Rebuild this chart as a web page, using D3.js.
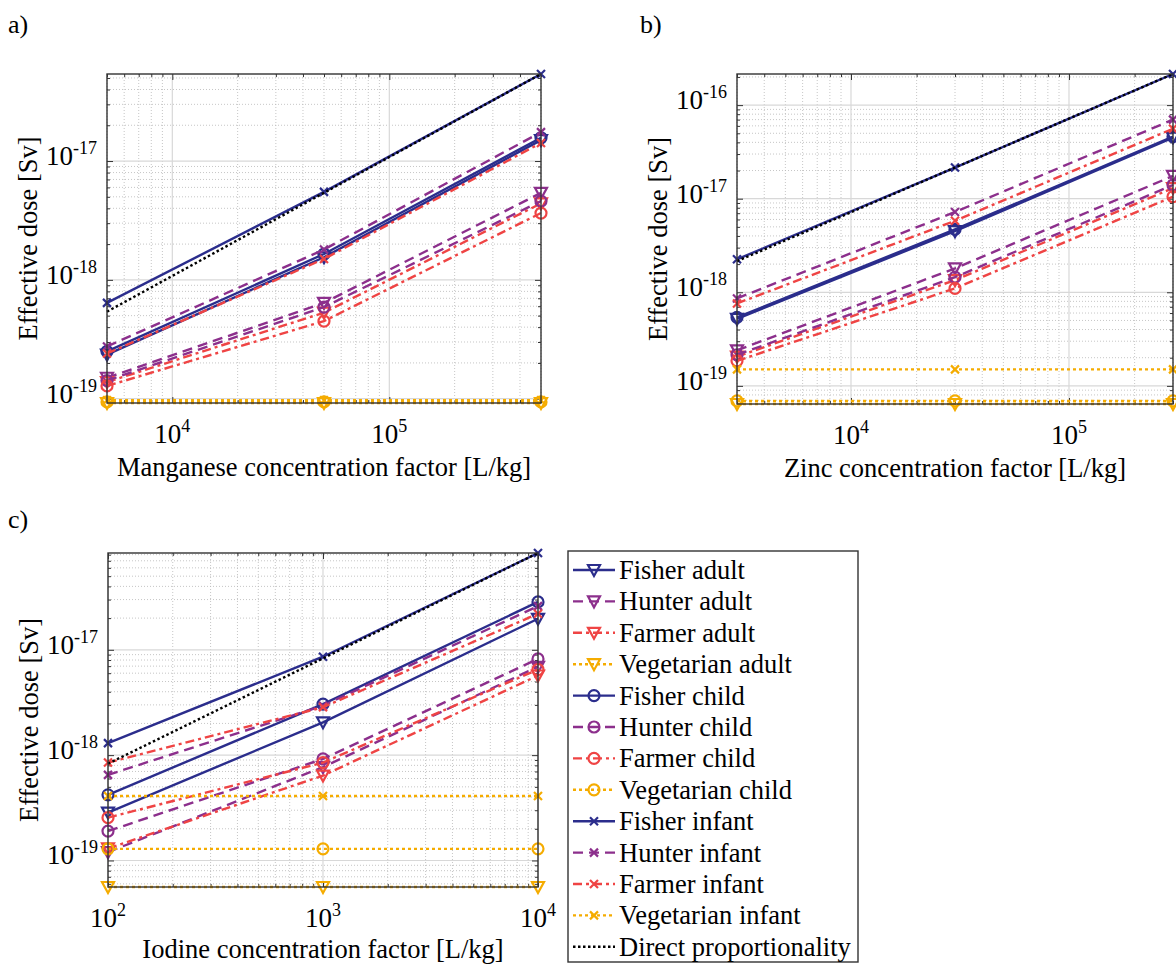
<!DOCTYPE html>
<html>
<head>
<meta charset="utf-8">
<script src="https://cdn.jsdelivr.net/npm/d3@7"></script>
<style>
body { margin: 0; background: #fff; }
text { font-family: "Liberation Serif", "Times New Roman", serif; fill: #000; }
</style>
</head>
<body>
<svg id="chart" width="1176" height="964"></svg>
<script>
"use strict";

// series, in legend order
var seriesNames = ["Fisher adult", "Hunter adult", "Farmer adult", "Vegetarian adult",
	"Fisher child", "Hunter child", "Farmer child", "Vegetarian child",
	"Fisher infant", "Hunter infant", "Farmer infant", "Vegetarian infant",
	"Direct proportionality"];

// concentration factors [L/kg]
var cfManganese = [5e3, 5e4, 5e5];
var cfZinc = [3e3, 3e4, 3e5];
var cfIodine = [1e2, 1e3, 1e4];

// effective dose [Sv], one row per series
var doseManganese = [
	[2.35e-19, 1.55e-18, 1.50e-17],
	[1.50e-19, 6.40e-19, 5.40e-18],
	[1.38e-19, 5.30e-19, 4.40e-18],
	[9.2e-20, 9.2e-20, 9.2e-20],
	[2.50e-19, 1.65e-18, 1.57e-17],
	[1.42e-19, 5.90e-19, 4.60e-18],
	[1.28e-19, 4.50e-19, 3.65e-18],
	[9.4e-20, 9.4e-20, 9.4e-20],
	[6.40e-19, 5.50e-18, 5.40e-17],
	[2.75e-19, 1.80e-18, 1.75e-17],
	[2.40e-19, 1.50e-18, 1.42e-17],
	[9.7e-20, 9.7e-20, 9.7e-20],
	[5.40e-19, 5.40e-18, 5.40e-17]
];

var doseZinc = [
	[5.20e-19, 4.50e-18, 4.50e-17],
	[2.40e-19, 1.80e-18, 1.75e-17],
	[2.05e-19, 1.35e-18, 1.30e-17],
	[6.4e-20, 6.4e-20, 6.4e-20],
	[5.40e-19, 4.70e-18, 4.60e-17],
	[2.15e-19, 1.45e-18, 1.40e-17],
	[1.85e-19, 1.10e-18, 1.05e-17],
	[6.9e-20, 6.9e-20, 6.9e-20],
	[2.25e-18, 2.15e-17, 2.15e-16],
	[8.60e-19, 7.20e-18, 7.00e-17],
	[7.60e-19, 5.80e-18, 5.60e-17],
	[1.5e-19, 1.5e-19, 1.5e-19],
	[2.15e-18, 2.15e-17, 2.15e-16]
];

var doseIodine = [
	[2.85e-19, 2.05e-18, 1.97e-17],
	[1.20e-19, 7.70e-19, 6.90e-18],
	[1.30e-19, 6.40e-19, 5.70e-18],
	[5.6e-20, 5.6e-20, 5.6e-20],
	[4.20e-19, 3.05e-18, 2.85e-17],
	[1.90e-19, 9.20e-19, 8.20e-18],
	[2.55e-19, 8.50e-19, 6.50e-18],
	[1.29e-19, 1.29e-19, 1.29e-19],
	[1.30e-18, 8.60e-18, 8.30e-17],
	[6.50e-19, 2.95e-18, 2.60e-17],
	[8.50e-19, 2.85e-18, 2.20e-17],
	[4.1e-19, 4.1e-19, 4.1e-19],
	[8.30e-19, 8.30e-18, 8.30e-17]
];

// styles per group
var groupStyle = {
	"Fisher": { color: "#2b2d8c", dash: null },
	"Hunter": { color: "#8c2f8c", dash: "10,6" },
	"Farmer": { color: "#ef4444", dash: "9,4,3,4" },
	"Vegetarian": { color: "#f5ac00", dash: "3,3" },
	"Direct": { color: "#000", dash: "2.5,2.5" }
};

var svg = d3.select("#chart");

function styleOf(name) {
	var parts = name.split(" ");
	var s = groupStyle[parts[0]];
	return { color: s.color, dash: s.dash, marker: parts[0] == "Direct" ? null : parts[1] };
}

function drawMarker(g, kind, color, cx, cy) {
	if (kind == "adult") {
		g.append("path")
			.attr("d", "M" + (cx - 6) + "," + (cy - 5) + "L" + (cx + 6) + "," + (cy - 5) + "L" + cx + "," + (cy + 6) + "Z")
			.attr("fill", "none").attr("stroke", color).attr("stroke-width", 2.2);
	} else if (kind == "child") {
		g.append("circle").attr("cx", cx).attr("cy", cy).attr("r", 5.5)
			.attr("fill", "none").attr("stroke", color).attr("stroke-width", 2.2);
	} else if (kind == "infant") {
		g.append("path")
			.attr("d", "M" + (cx - 4) + "," + (cy - 4) + "L" + (cx + 4) + "," + (cy + 4) +
				"M" + (cx - 4) + "," + (cy + 4) + "L" + (cx + 4) + "," + (cy - 4))
			.attr("stroke", color).attr("stroke-width", 2.2);
	}
}

function isDecade(v) {
	var l = Math.log10(v);
	return Math.abs(l - Math.round(l)) < 1e-6;
}

function powLabel(sel, v) {
	sel.append("tspan").text("10");
	sel.append("tspan").attr("dy", -11).style("font-size", "18px").text(Math.round(Math.log10(v)));
}

function drawPanel(p) {
	var g = svg.append("g");
	var x = d3.scaleLog().domain(d3.extent(p.xs)).range([p.left, p.right]);
	var y = d3.scaleLog().domain(d3.extent(d3.merge(p.dose))).range([p.bottom, p.top]);
	var xt = x.ticks(), yt = y.ticks();
	var xMajor = xt.filter(isDecade), yMajor = yt.filter(isDecade);
	var xMinor = xt.filter(function(v) { return !isDecade(v); });
	var yMinor = yt.filter(function(v) { return !isDecade(v); });

	// minor grid
	g.selectAll(".gxm").data(xMinor).enter().append("line")
		.attr("x1", x).attr("x2", x).attr("y1", p.top).attr("y2", p.bottom)
		.attr("stroke", "#b8b8b8").attr("stroke-width", 0.8).attr("stroke-dasharray", "1,2");
	g.selectAll(".gym").data(yMinor).enter().append("line")
		.attr("y1", y).attr("y2", y).attr("x1", p.left).attr("x2", p.right)
		.attr("stroke", "#b8b8b8").attr("stroke-width", 0.8).attr("stroke-dasharray", "1,2");
	// major grid
	g.selectAll(".gx").data(xMajor).enter().append("line")
		.attr("x1", x).attr("x2", x).attr("y1", p.top).attr("y2", p.bottom)
		.attr("stroke", "#d8d8d8").attr("stroke-width", 1.2);
	g.selectAll(".gy").data(yMajor).enter().append("line")
		.attr("y1", y).attr("y2", y).attr("x1", p.left).attr("x2", p.right)
		.attr("stroke", "#d8d8d8").attr("stroke-width", 1.2);

	// tick marks, inward on all sides
	function ticks(axis, vals, size, transform) {
		g.append("g").attr("transform", transform)
			.call(axis.tickValues(vals).tickSize(size).tickFormat(""))
			.call(function(a) {
				a.select(".domain").remove();
				a.selectAll("line").attr("stroke", "#333").attr("stroke-width", 1);
			});
	}
	ticks(d3.axisBottom(x), xMajor, -6, "translate(0," + p.bottom + ")");
	ticks(d3.axisBottom(x), xMinor, -3, "translate(0," + p.bottom + ")");
	ticks(d3.axisTop(x), xMajor, -6, "translate(0," + p.top + ")");
	ticks(d3.axisTop(x), xMinor, -3, "translate(0," + p.top + ")");
	ticks(d3.axisLeft(y), yMajor, -6, "translate(" + p.left + ",0)");
	ticks(d3.axisLeft(y), yMinor, -3, "translate(" + p.left + ",0)");
	ticks(d3.axisRight(y), yMajor, -6, "translate(" + p.right + ",0)");
	ticks(d3.axisRight(y), yMinor, -3, "translate(" + p.right + ",0)");

	// series
	var line = d3.line().x(function(d) { return x(d[0]); }).y(function(d) { return y(d[1]); });
	p.dose.forEach(function(row, i) {
		var st = styleOf(seriesNames[i]);
		var pts = row.map(function(v, j) { return [p.xs[j], v]; });
		g.append("path").attr("d", line(pts))
			.attr("fill", "none").attr("stroke", st.color).attr("stroke-width", 2.4)
			.attr("stroke-dasharray", st.dash);
		pts.forEach(function(d) {
			drawMarker(g, st.marker, st.color, x(d[0]), y(d[1]));
		});
	});

	// box
	g.append("rect").attr("x", p.left).attr("y", p.top)
		.attr("width", p.right - p.left).attr("height", p.bottom - p.top)
		.attr("fill", "none").attr("stroke", "#333").attr("stroke-width", 1.4);

	// tick labels
	xMajor.forEach(function(v) {
		g.append("text").attr("x", x(v)).attr("y", p.bottom + 40)
			.attr("text-anchor", "middle").style("font-size", "27px")
			.call(powLabel, v);
	});
	yMajor.forEach(function(v) {
		g.append("text").attr("x", p.left - 10).attr("y", y(v) + 4)
			.attr("text-anchor", "end").style("font-size", "27px")
			.call(powLabel, v);
	});

	// axis titles
	g.append("text").attr("x", (p.left + p.right) / 2).attr("y", p.bottom + p.titleGap)
		.attr("text-anchor", "middle").style("font-size", "26.5px").text(p.xTitle);
	g.append("text")
		.attr("transform", "translate(" + (p.left - 70) + "," + ((p.top + p.bottom) / 2) + ") rotate(-90)")
		.attr("text-anchor", "middle").style("font-size", "26.5px").text("Effective dose [Sv]");
	g.append("text").attr("x", p.labelX).attr("y", p.labelY)
		.style("font-size", "26px").text(p.tag);
}

function drawLegend(lx, ly, w, h) {
	var g = svg.append("g");
	g.append("rect").attr("x", lx).attr("y", ly).attr("width", w).attr("height", h)
		.attr("fill", "#fff").attr("stroke", "#333").attr("stroke-width", 1.4);
	seriesNames.forEach(function(name, i) {
		var st = styleOf(name);
		var cy = ly + 19 + i * 31.4;
		g.append("line").attr("x1", lx + 5).attr("x2", lx + 47).attr("y1", cy).attr("y2", cy)
			.attr("stroke", st.color).attr("stroke-width", 2.4).attr("stroke-dasharray", st.dash);
		drawMarker(g, st.marker, st.color, lx + 26, cy);
		g.append("text").attr("x", lx + 51).attr("y", cy + 9)
			.style("font-size", "26.5px").text(name);
	});
}

drawPanel({ xs: cfManganese, dose: doseManganese, left: 107, right: 541, top: 74, bottom: 403,
	xTitle: "Manganese concentration factor [L/kg]", titleGap: 73, tag: "a)", labelX: 8, labelY: 33 });
drawPanel({ xs: cfZinc, dose: doseZinc, left: 737, right: 1173, top: 74, bottom: 404,
	xTitle: "Zinc concentration factor [L/kg]", titleGap: 73, tag: "b)", labelX: 640, labelY: 33 });
drawPanel({ xs: cfIodine, dose: doseIodine, left: 108, right: 538, top: 553, bottom: 887,
	xTitle: "Iodine concentration factor [L/kg]", titleGap: 71, tag: "c)", labelX: 8, labelY: 528 });
drawLegend(568, 551, 290, 411);
</script>
</body>
</html>
